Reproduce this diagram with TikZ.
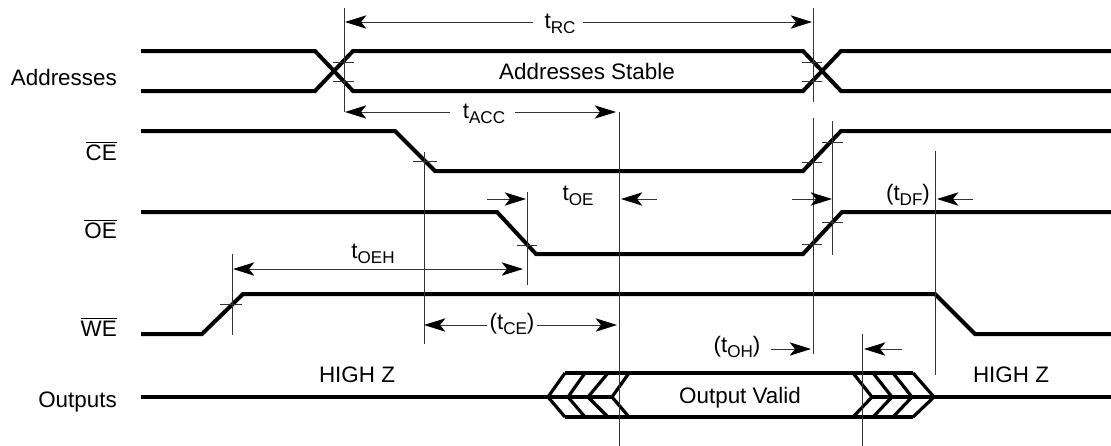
\documentclass[tikz,border=0pt]{standalone}
\usepackage{fontspec}
\setmainfont{Liberation Sans}
\usepackage{tikz}
\usetikzlibrary{arrows.meta, calc, positioning}
\newcommand{\tsub}[1]{t\raisebox{-4pt}{\fontsize{12.8}{14}\selectfont #1}}
\newcommand{\barsig}[1]{$\overline{\mbox{#1}}$}
\tikzset{
    signal/.style={line width=3pt, line join=miter},
    chevron/.style={line width=2.4pt, line join=miter},
    guide/.style={line width=0.7pt, black!80},
    dim/.style={line width=0.7pt, black!80,
        -{Stealth[length=16pt, width=10pt, inset=4pt, black]}},
    dimboth/.style={dim,
        {Stealth[length=16pt, width=10pt, inset=4pt, black]}-{Stealth[length=16pt, width=10pt, inset=4pt, black]}},
    lab/.style={inner sep=0pt, font=\fontsize{16.8}{18}\selectfont},
    timelab/.style={lab, anchor=base},
    siglab/.style={lab, anchor=base east}
}
\begin{document}
\begin{tikzpicture}[x=0.75pt, y=-0.75pt]
    \useasboundingbox (0,0) rectangle (1111,446);
    % signal names
    \node[siglab] (addr) at (117,85) {Addresses};
    \node[siglab] (ce) at (117,160) {\barsig{CE}};
    \node[siglab] (oe) at (117,238) {\barsig{OE}};
    \node[siglab] (we) at (117,336) {\barsig{WE}};
    \node[siglab] (out) at (117,407) {Outputs};
    % waveforms
    \draw[signal] (141,51) -- (315,51) -- (353,91) -- (803,91) -- (841,51) -- (1111,51);
    \draw[signal] (141,91) -- (315,91) -- (353,51) -- (803,51) -- (841,91) -- (1111,91);
    \draw[signal] (141,131) -- (395,131) -- (435,171) -- (803,171) -- (841,131) -- (1111,131);
    \draw[signal] (141,212) -- (497,212) -- (536,254) -- (803,254) -- (842,212) -- (1111,212);
    \draw[signal] (141,334) -- (202,334) -- (243,294) -- (935,294) -- (975,334) -- (1111,334);
    \draw[signal] (141,397) -- (612,397);
    \draw[signal] (872,397) -- (1111,397);
    \draw[chevron] (565,373) -- (913,373);
    \draw[chevron] (565,417) -- (913,417);
    % chevrons
    \foreach \xa/\xb in {565/548, 585/568, 608/588, 629/612}
        \draw[chevron] (\xa,373) -- (\xb,397) -- (\xa,417);
    \foreach \xa/\xb in {853/872, 873/892, 893/912, 913/934}
        \draw[chevron] (\xa,373) -- (\xb,397) -- (\xa,417);
    % guide lines
    \foreach \x/\ya/\yb in {344/8/112, 813/8/102, 813/118/354, 832/121/255,
        935/151/375, 619/112/446, 424/152/344, 527/192/285, 232/254/335, 862/334/446}
        \draw[guide] (\x,\ya) -- (\x,\yb);
    % crossing marks
    \foreach \xa/\xb/\y in {333/354/62, 333/354/81, 802/822/62, 802/822/81,
        413/437/161, 802/822/162, 822/843/142, 822/843/222, 802/822/244,
        517/537/245, 220/242/304}
        \draw[guide] (\xa,\y) -- (\xb,\y);
    % timing labels
    \node[timelab] (trc) at (560,28) {\tsub{RC}};
    \node[timelab] (tacc) at (484,118) {\tsub{ACC}};
    \node[timelab] (toe) at (578,200) {\tsub{OE}};
    \node[timelab] (toeh) at (373,258) {\tsub{OEH}};
    \node[timelab] (tce) at (512,329) {(\tsub{CE})};
    \node[timelab] (toh) at (737,352) {(\tsub{OH})};
    \node[timelab] (tdf) at (908,200) {(\tsub{DF})};
    % arrow ends
    \foreach \name/\x/\y in {rca/533/22, rcb/345/22, rcc/583/22, rcd/812/22,
        acca/450/112, accb/345/112, accc/515/112, accd/616/112,
        oea/487/199, oeb/526/199, oec/657/199, oed/621/199,
        oeha/233/269, oehb/523/269,
        cea/487/325, ceb/424/325, cec/537/325, ced/617/325,
        oha/771/349, ohb/811/349, ohc/902/349, ohd/864/349,
        dfa/792/199, dfb/832/199, dfc/973/199, dfd/937/199}
        \coordinate (\name) at (\x,\y);
    % arrows
    \draw[dim] (rca) -- (rcb);
    \draw[dim] (rcc) -- (rcd);
    \draw[dim] (acca) -- (accb);
    \draw[dim] (accc) -- (accd);
    \draw[dim] (oea) -- (oeb);
    \draw[dim] (oec) -- (oed);
    \draw[dimboth] (oeha) -- (oehb);
    \draw[dim] (cea) -- (ceb);
    \draw[dim] (cec) -- (ced);
    \draw[dim] (oha) -- (ohb);
    \draw[dim] (ohc) -- (ohd);
    \draw[dim] (dfa) -- (dfb);
    \draw[dim] (dfc) -- (dfd);
    % state labels
    \node[lab] (stable) at (587,71) {Addresses Stable};
    \node[lab] (valid) at (740,398) {Output Valid};
    \node[lab] (hizl) at (357,375) {HIGH Z};
    \node[lab] (hizr) at (1011,375) {HIGH Z};
\end{tikzpicture}
\end{document}
